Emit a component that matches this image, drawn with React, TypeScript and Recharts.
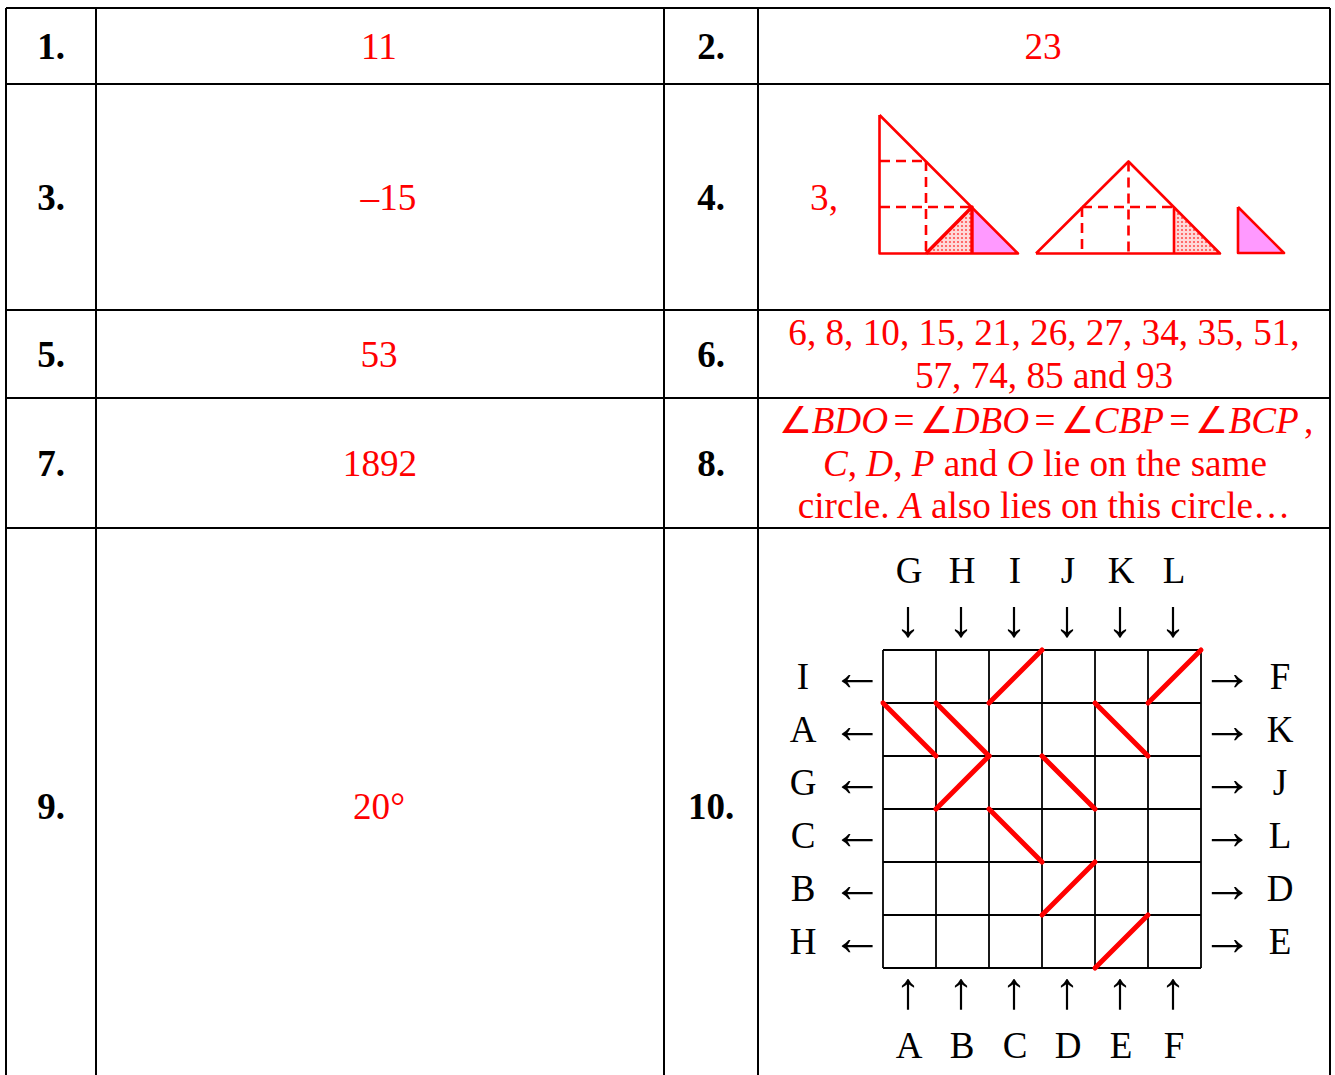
import React from "react";
import { ComposedChart, XAxis, YAxis, Line, Area, Scatter } from "recharts";

const W = 1335;
const H = 1075;
const SERIF = "'Liberation Serif', 'Times New Roman', serif";
const RED = "#ff0000";

type P = { x: number; y: number };
const pts = (...a: number[][]): P[] => a.map(([x, y]) => ({ x, y }));

// table rules
const colEdges = [6, 96, 664, 758, 1330];
const rowEdges = [8, 84, 310, 398, 528];

// answer numbers
const numberLabels = [
  { t: "1.", x: 51, y: 59 },
  { t: "2.", x: 711, y: 59 },
  { t: "3.", x: 51, y: 210 },
  { t: "4.", x: 711, y: 210 },
  { t: "5.", x: 51, y: 367 },
  { t: "6.", x: 711, y: 367 },
  { t: "7.", x: 51, y: 476 },
  { t: "8.", x: 711, y: 476 },
  { t: "9.", x: 51, y: 819 },
  { t: "10.", x: 711, y: 819 },
];

// answers; _ toggles italic
const answerLabels = [
  { t: "11", x: 379, y: 59 },
  { t: "23", x: 1043, y: 59 },
  { t: "–15", x: 388.5, y: 210 },
  { t: "3,", x: 824, y: 210 },
  { t: "53", x: 379, y: 367 },
  { t: "6, 8, 10, 15, 21, 26, 27, 34, 35, 51,", x: 1044, y: 345 },
  { t: "57, 74, 85 and 93", x: 1044, y: 388 },
  { t: "1892", x: 380, y: 476 },
  { t: "_C_, _D_, _P_ and _O_ lie on the same", x: 1045, y: 476 },
  { t: "circle. _A_ also lies on this circle…", x: 1044, y: 518 },
  { t: "20°", x: 379, y: 819 },
];
const angleLabels = [{ t: "∠_BDO_ = ∠_DBO_ = ∠_CBP_ = ∠_BCP_ ,", x: 1046, y: 433 }];

// puzzle grid
const gridX0 = 883;
const gridY0 = 650;
const cell = 53;
const gridLines = [0, 1, 2, 3, 4, 5, 6];
const topLetters = ["G", "H", "I", "J", "K", "L"];
const bottomLetters = ["A", "B", "C", "D", "E", "F"];
const leftLetters = ["I", "A", "G", "C", "B", "H"];
const rightLetters = ["F", "K", "J", "L", "D", "E"];
// col, row, rising?
const mirrors: [number, number, boolean][] = [
  [2, 0, true],
  [5, 0, true],
  [0, 1, false],
  [1, 1, false],
  [4, 1, false],
  [1, 2, true],
  [3, 2, false],
  [2, 3, false],
  [3, 4, true],
  [4, 5, true],
];

const gridIdx = [0, 1, 2, 3, 4, 5];
const letterLabels = [
  ...gridIdx.map((i) => ({ t: topLetters[i], x: gridX0 + 26 + i * cell, y: 583 })),
  ...gridIdx.map((i) => ({ t: bottomLetters[i], x: gridX0 + 26 + i * cell, y: 1058 })),
  ...gridIdx.map((i) => ({ t: leftLetters[i], x: 803, y: 689 + i * cell })),
  ...gridIdx.map((i) => ({ t: rightLetters[i], x: 1280, y: 689 + i * cell })),
];
const arrowLabels = [
  ...gridIdx.map((i) => ({ t: "↓", x: gridX0 + 25 + i * cell, y: 636 })),
  ...gridIdx.map((i) => ({ t: "↑", x: gridX0 + 25 + i * cell, y: 1008 })),
  ...gridIdx.map((i) => ({ t: "←", x: 857, y: 690 + i * cell })),
  ...gridIdx.map((i) => ({ t: "→", x: 1227, y: 690 + i * cell })),
];

// figure for answer 4
const solidThin = [
  pts([879.5, 115], [879.5, 253.5], [1018, 253.5], [879.5, 115]),
  pts([1036, 253.5], [1128.5, 161.5], [1220, 253.5], [1036, 253.5]),
  pts([1174, 207], [1174, 253.5]),
  pts([1238, 207], [1284, 253], [1238, 253], [1238, 207]),
];
const solidThick = [pts([926, 253.5], [972, 207], [972, 253.5])];
const dashed = [
  pts([880, 161], [926, 161]),
  pts([880, 207], [972, 207]),
  pts([926, 161], [926, 253]),
  pts([1082, 207], [1174, 207]),
  pts([1082, 207], [1082, 253]),
  pts([1128.5, 161.5], [1128.5, 253]),
];
const pinkTriangles = [
  { base: 253, pts: pts([972, 207], [1018, 253]) },
  { base: 253, pts: pts([1238, 207], [1284, 253]) },
];
const dottedTriangles = [
  { base: 253, pts: pts([926, 253], [972, 207]) },
  { base: 253, pts: pts([1174, 207], [1220, 253]) },
];

const ruleSegments: P[][] = [
  ...colEdges.map((x) => pts([x, rowEdges[0]], [x, H])),
  ...rowEdges.map((y) => pts([colEdges[0], y], [colEdges[4], y])),
];
const gridSegments: P[][] = [
  ...gridLines.map((i) => pts([gridX0 + i * cell, gridY0], [gridX0 + i * cell, gridY0 + 6 * cell])),
  ...gridLines.map((i) => pts([gridX0, gridY0 + i * cell], [gridX0 + 6 * cell, gridY0 + i * cell])),
];
const mirrorSegments: P[][] = mirrors.map(([c, r, rising]) => {
  const l = gridX0 + c * cell;
  const t = gridY0 + r * cell;
  return rising ? pts([l, t + cell], [l + cell, t]) : pts([l, t], [l + cell, t + cell]);
});

const makeText =
  (fill: string, size: number, weight: string, wordSpacing = 0) =>
  (props: any) => {
    const { cx, cy, payload } = props;
    const parts = String(payload.t).split("_");
    return (
      <text x={cx} y={cy} fill={fill} fontSize={size} fontWeight={weight} fontFamily={SERIF} textAnchor="middle" style={{ wordSpacing }}>
        {parts.map((p, i) => (
          <tspan key={i} fontStyle={i % 2 ? "italic" : "normal"}>
            {p}
          </tspan>
        ))}
      </text>
    );
  };

const seg = (data: P[], key: string, color: string, width: number, extra: any = {}) => (
  <Line
    key={key}
    data={data}
    dataKey="y"
    stroke={color}
    strokeWidth={width}
    strokeLinejoin="round"
    dot={false}
    activeDot={false}
    legendType="none"
    isAnimationActive={false}
    {...extra}
  />
);

export default function App() {
  return (
    <div style={{ position: "fixed", left: 0, top: 0, width: W, height: H, background: "#fff" }}>
      <ComposedChart width={W} height={H} margin={{ top: 0, right: 0, bottom: 0, left: 0 }}>
        <defs>
          <pattern id="dots" width="4" height="4" patternUnits="userSpaceOnUse">
            <rect width="4" height="4" fill="#ffd9d9" />
            <circle cx="2" cy="2" r="1.1" fill="#ff5050" />
          </pattern>
        </defs>
        <XAxis type="number" dataKey="x" domain={[0, W]} hide allowDuplicatedCategory />
        <YAxis type="number" dataKey="y" domain={[0, H]} reversed hide />
        {pinkTriangles.map((t, i) => (
          <Area key={"p" + i} data={t.pts} dataKey="y" baseValue={t.base} type="linear" fill="#ff99ff" fillOpacity={1} stroke="none" dot={false} activeDot={false} isAnimationActive={false} />
        ))}
        {dottedTriangles.map((t, i) => (
          <Area key={"d" + i} data={t.pts} dataKey="y" baseValue={t.base} type="linear" fill="url(#dots)" fillOpacity={1} stroke="none" dot={false} activeDot={false} isAnimationActive={false} />
        ))}
        {ruleSegments.map((s, i) => seg(s, "r" + i, "#000", 2))}
        {gridSegments.map((s, i) => seg(s, "g" + i, "#000", 1.8))}
        {mirrorSegments.map((s, i) => seg(s, "m" + i, RED, 5, { strokeLinecap: "round" }))}
        {solidThin.map((s, i) => seg(s, "t" + i, RED, 2.6))}
        {solidThick.map((s, i) => seg(s, "k" + i, RED, 3.4))}
        {dashed.map((s, i) => seg(s, "h" + i, RED, 2.6, { strokeDasharray: "10 6" }))}
        <Scatter data={numberLabels} shape={makeText("#000", 37, "bold")} isAnimationActive={false} />
        <Scatter data={answerLabels} shape={makeText(RED, 37.2, "normal")} isAnimationActive={false} />
        <Scatter data={angleLabels} shape={makeText(RED, 37.2, "normal", -4)} isAnimationActive={false} />
        <Scatter data={letterLabels} shape={makeText("#000", 37, "normal")} isAnimationActive={false} />
        <Scatter data={arrowLabels} shape={makeText("#000", 52, "normal")} isAnimationActive={false} />
      </ComposedChart>
    </div>
  );
}
